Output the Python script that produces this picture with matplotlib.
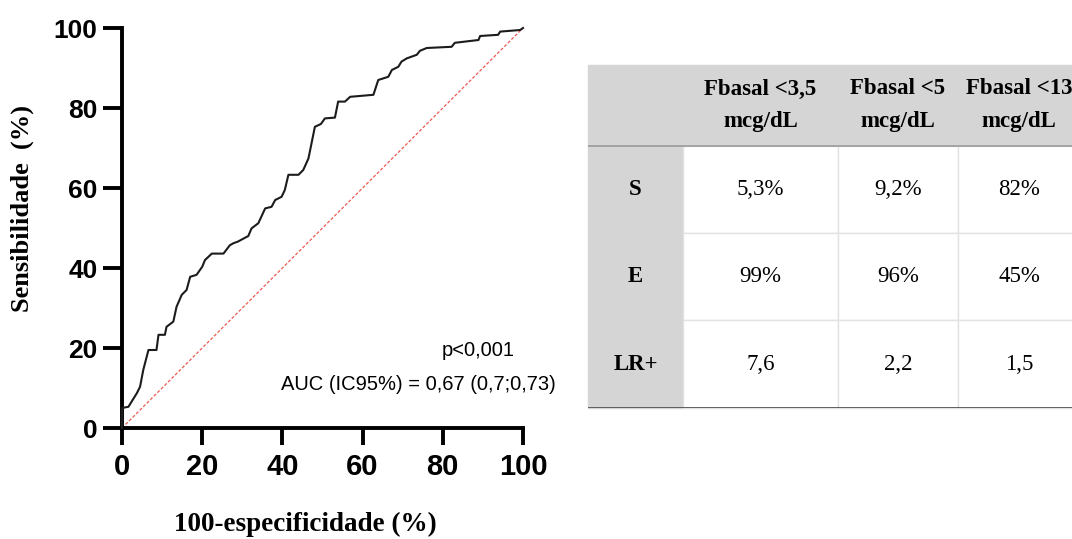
import matplotlib
matplotlib.use("Agg")
import matplotlib.pyplot as plt

# ROC curve (percent)
fpr = [0, 0, 1.6, 2.4, 3.7, 4.5, 5.3, 6.6, 8.6, 9.1, 10.7, 11.1, 12.8, 13.6, 14.9,
       16.1, 17.0, 18.6, 20.0, 20.7, 22.4, 25.3, 26.9, 27.8, 28.9, 31.5, 32.3, 34.0,
       35.7, 37.3, 38.2, 39.8, 40.6, 41.5, 44.0, 45.2, 46.5, 48.1, 49.6, 50.6, 53.1,
       53.9, 55.6, 56.9, 62.7, 63.9, 66.4, 67.3, 68.9, 69.7, 71.0, 73.5, 74.3, 76.0,
       82.2, 83.0, 88.9, 89.3, 93.8, 94.3, 99.3, 100]
tpr = [0, 5, 5.3, 6.6, 8.7, 10.3, 14.5, 19.5, 19.5, 23.3, 23.3, 25.3, 26.6, 30.3, 33.3,
       34.5, 37.8, 38.3, 40.3, 42.0, 43.6, 43.6, 45.7, 46.2, 46.6, 48.0, 49.9, 51.2,
       54.9, 55.3, 57.0, 57.8, 59.5, 63.3, 63.3, 64.5, 67.4, 75.3, 76.0, 77.4, 77.6,
       81.6, 81.6, 82.8, 83.3, 87.0, 87.8, 89.5, 90.3, 91.6, 92.4, 93.3, 94.3, 95.0,
       95.3, 96.3, 97.0, 98.0, 98.3, 99.1, 99.5, 100]
ticks = [0, 20, 40, 60, 80, 100]
p_text = "p<0,001"
auc_text = "AUC (IC95%) = 0,67 (0,7;0,73)"

# table next to the curve
col_labels = ["", "Fbasal <3,5\nmcg/dL", "Fbasal <5\nmcg/dL", "Fbasal <13\nmcg/dL"]
row_labels = ["S", "E", "LR+"]
cell_values = [["5,3%", "9,2%", "82%"],
               ["99%", "96%", "45%"],
               ["7,6", "2,2", "1,5"]]

W, H = 1072, 539
fig = plt.figure(figsize=(W / 100, H / 100), dpi=100)


def px(x0, y0, x1, y1):
    # pixel box (top-left origin) -> figure fraction
    return [x0 / W, 1 - y1 / H, (x1 - x0) / W, (y1 - y0) / H]


ax = fig.add_axes(px(122, 28, 523, 428))
ax.plot([0, 100], [0, 100], color='#ea5a52', lw=0.9, ls=(0, (2.5, 1.5)), clip_on=False)
ax.plot(fpr, tpr, color='#1c1c1c', lw=1.5, clip_on=False, zorder=3)
ax.set_xlim(0, 100)
ax.set_ylim(0, 100)
ax.set_xticks(ticks)
ax.set_yticks(ticks)
for s in ['top', 'right']:
    ax.spines[s].set_visible(False)
for s in ['left', 'bottom']:
    ax.spines[s].set_linewidth(2.8)

ax.tick_params(axis='x', length=12, width=2.8, pad=6)
ax.tick_params(axis='y', length=14, width=2.8, pad=3.5)
for lab in ax.get_xticklabels():
    lab.set_fontfamily('Liberation Sans')
    lab.set_fontweight('bold')
    lab.set_fontsize(21)
for lab in ax.get_yticklabels():
    lab.set_fontfamily('Liberation Sans')
    lab.set_fontweight('bold')
    lab.set_fontsize(19)

fig.text(22 / W, 1 - 208 / H, "Sensibilidade  (%)", rotation=90, ha='center', va='center',
         family='Liberation Serif', fontweight='bold', fontsize=19)
fig.text(305 / W, 1 - 524 / H, "100-especificidade (%)", ha='center', va='center',
         family='Liberation Serif', fontweight='bold', fontsize=19.5)

fig.text(515 / W, 1 - 350 / H, p_text, ha='right', va='center',
         family='Liberation Sans', fontsize=14.5)
fig.text(556 / W, 1 - 385 / H, auc_text, ha='right', va='center',
         family='Liberation Sans', fontsize=14.5)

# table
tab_ax = fig.add_axes(px(588, 65, 1080, 408))
tab_ax.axis('off')
cell_text = [col_labels] + [[r] + v for r, v in zip(row_labels, cell_values)]
tbl = tab_ax.table(cellText=cell_text, bbox=[0, 0, 1, 1], cellLoc='center')
tbl.auto_set_font_size(False)
col_w = [95, 155, 120, 122]
row_h = [81, 87, 87, 88]
gray = '#d5d5d5'
for (r, c), cell in tbl.get_celld().items():
    cell.set_width(col_w[c])
    cell.set_height(row_h[r])
    is_head = r == 0 or c == 0
    cell.set_facecolor(gray if is_head else 'white')
    cell.set_edgecolor(gray if is_head else '#e2e2e2')
    cell.set_linewidth(1)
    t = cell.get_text()
    t.set_fontfamily('Liberation Serif')
    t.set_fontsize(16.5)
    t.set_fontweight('bold' if is_head else 'normal')
    t.set_linespacing(1.75)

tab_ax.axhline(1 - row_h[0] / sum(row_h), color='#9a9a9a', lw=1.2)
tab_ax.axhline(0, color='#555555', lw=1.3)

fig.savefig("out.png", dpi=100)
